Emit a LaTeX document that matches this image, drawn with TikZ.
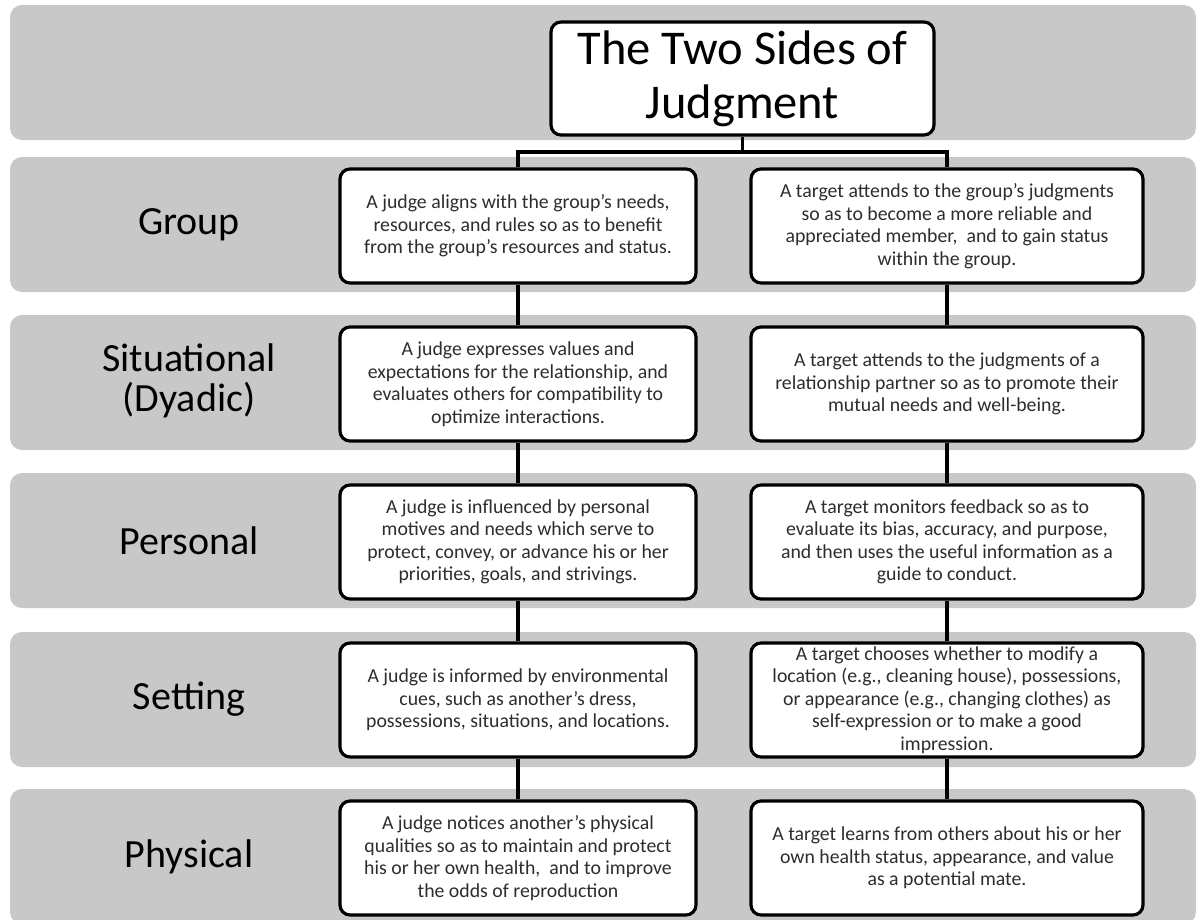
\documentclass[tikz,border=0pt]{standalone}
\usepackage{fontspec}
\setmainfont{Carlito}
\definecolor{bandgray}{RGB}{200,200,200}
\definecolor{boxtext}{RGB}{45,45,45}
\tikzset{
  band/.style={fill=bandgray, draw=none, rounded corners=12pt},
  lvl/.style={font=\fontsize{40}{40}\selectfont, align=center, text=black, inner sep=0pt},
  titlebox/.style={draw=black, line width=3.2pt, fill=white, rounded corners=10pt,
    minimum width=383pt, minimum height=113pt, inner sep=0pt, align=center,
    font=\fontsize{48.5}{54}\selectfont},
  lbox/.style={draw=black, line width=3.2pt, fill=white, rounded corners=10pt,
    minimum width=356pt, minimum height=114pt, inner sep=0pt, align=center,
    text=boxtext, font=\fontsize{19.8}{22.5}\selectfont},
  rbox/.style={lbox, minimum width=392pt},
  conn/.style={draw=black, line width=3.4pt},
}
\begin{document}
\begin{tikzpicture}[x=1pt, y=-1pt]
\useasboundingbox (0,0) rectangle (1197,919);
\clip (0,0) rectangle (1197,919);
% bands
\foreach \t in {5,157,315,473,632,789} {
  \path[band] (10,\t) rectangle (1196,\t+135);
}
% labels
\node[lvl] (lg) at (189,224.5) {Group};
\node[lvl] (ls) at (189,381) {Situational\\(Dyadic)};
\node[lvl] (lp) at (189,540.5) {Personal};
\node[lvl] (lse) at (189,699.5) {Setting};
\node[lvl] (lph) at (189,856.5) {Physical};
% title
\node[titlebox] (title) at (742.5,78.5) {The Two Sides of\\Judgment};
% left column
\node[lbox] (g1) at (518,226) {A judge aligns with the group’s needs,\\resources, and rules so as to benefit\\from the group’s resources and status.};
\node[lbox] (s1) at (518,384) {A judge expresses values and\\expectations for the relationship, and\\evaluates others for compatibility to\\optimize interactions.};
\node[lbox] (p1) at (518,542) {A judge is influenced by personal\\motives and needs which serve to\\protect, convey, or advance his or her\\priorities, goals, and strivings.};
\node[lbox] (e1) at (518,700) {A judge is informed by environmental\\cues, such as another’s dress,\\possessions, situations, and locations.};
\node[lbox] (h1) at (518,858) {A judge notices another’s physical\\qualities so as to maintain and protect\\his or her own health,\ \ and to improve\\the odds of reproduction};
% right column
\node[rbox] (g2) at (947,226) {A target attends to the group’s judgments\\so as to become a more reliable and\\appreciated member,\ \ and to gain status\\within the group.};
\node[rbox] (s2) at (947,384) {A target attends to the judgments of a\\relationship partner so as to promote their\\mutual needs and well-being.};
\node[rbox] (p2) at (947,542) {A target monitors feedback so as to\\evaluate its bias, accuracy, and purpose,\\and then uses the useful information as a\\guide to conduct.};
\node[rbox] (e2) at (947,700) {A target chooses whether to modify a\\location (e.g., cleaning house), possessions,\\or appearance (e.g., changing clothes) as\\self-expression or to make a good\\impression.};
\node[rbox] (h2) at (947,858) {A target learns from others about his or her\\own health status, appearance, and value\\as a potential mate.};
% connectors
\coordinate (bus) at (742.5,152);
\draw[conn] (title.south) -- (title.south |- bus);
\draw[conn, line join=miter] (g1.north) -- (g1.north |- bus) -- (g2.north |- bus) -- (g2.north);
\draw[conn] (g1.south) -- (s1.north);
\draw[conn] (s1.south) -- (p1.north);
\draw[conn] (p1.south) -- (e1.north);
\draw[conn] (e1.south) -- (h1.north);
\draw[conn] (g2.south) -- (s2.north);
\draw[conn] (s2.south) -- (p2.north);
\draw[conn] (p2.south) -- (e2.north);
\draw[conn] (e2.south) -- (h2.north);
\end{tikzpicture}
\end{document}
